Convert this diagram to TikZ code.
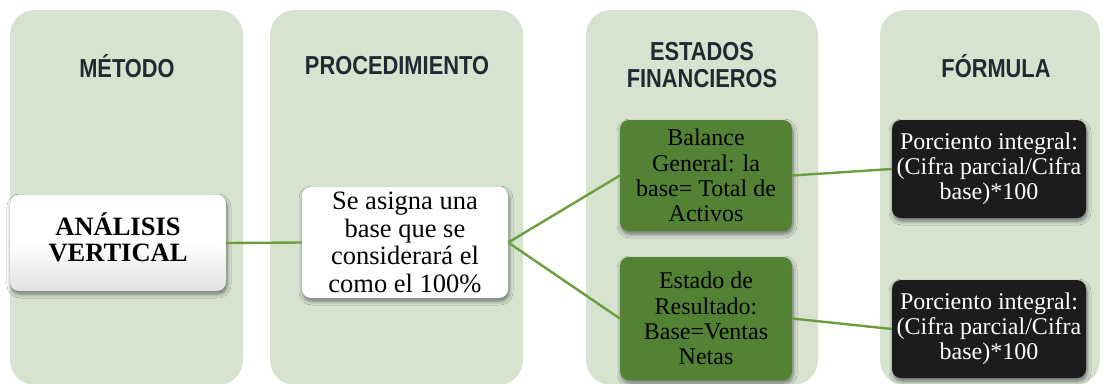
\documentclass[tikz,border=0pt]{standalone}
\usepackage{fontspec}
\setmainfont{Liberation Serif}
\newfontfamily\hdrfont[FakeStretch=0.84]{Liberation Sans}
\usetikzlibrary{shadows.blur}
\definecolor{colbg}{HTML}{D6E3CF}
\definecolor{hdrcol}{HTML}{232933}
\definecolor{boxgreen}{HTML}{548235}
\definecolor{linkgreen}{HTML}{6B9E3F}
\definecolor{boxblack}{HTML}{1C1C1C}
\tikzset{
  column/.style={fill=colbg, draw=none, rounded corners=25pt},
  header/.style={text=hdrcol, font=\hdrfont\bfseries\fontsize{26}{27}\selectfont, align=center},
  boxshadow/.style={blur shadow={shadow xshift=1pt, shadow yshift=-3pt, shadow blur radius=4pt, shadow blur steps=6, shadow opacity=50}},
  whitebox/.style={boxshadow, rounded corners=9pt, draw=none, align=center, inner sep=2pt,
    font=\fontsize{26.5}{27.5}\selectfont, text=black},
  greenbox/.style={boxshadow, fill=boxgreen, rounded corners=9pt, draw=none, align=center, inner sep=2pt,
    font=\fontsize{24}{25.3}\selectfont, text=black, minimum width=172pt},
  blackbox/.style={boxshadow, fill=boxblack, rounded corners=9pt, draw=none, align=center, inner sep=2pt,
    font=\fontsize{24}{25}\selectfont, text=white, minimum width=194pt, minimum height=98pt},
  link/.style={draw=linkgreen, line width=2.4pt}
}
\begin{document}
\begin{tikzpicture}[x=1pt, y=-1pt]
\useasboundingbox (0,0) rectangle (1107,383);
\fill[white] (0,0) rectangle (1107,383);
% columns
\path[column] (10,10) rectangle (243,385);
\path[column] (270,10) rectangle (523,385);
\path[column] (586,10) rectangle (818,385);
\path[column] (880,10) rectangle (1100,385);
% headers
\node[header] (h1) at (127,66) {MÉTODO};
\node[header] (h2) at (397,66) {PROCEDIMIENTO};
\node[header] (h3) at (702,65) {ESTADOS\\FINANCIEROS};
\node[header] (h4) at (996,66) {FÓRMULA};
% boxes
\node[whitebox, top color=white, bottom color=black!12, middle color=white,
  minimum width=216pt, minimum height=96pt, font=\bfseries\fontsize{26.5}{26.5}\selectfont]
  (av) at (118,243) {ANÁLISIS\\VERTICAL\rule[-12pt]{0pt}{12pt}};
\node[whitebox, fill=white, minimum width=206pt, minimum height=111pt]
  (sa) at (405,242.5) {Se asigna una\\base que se\\considerará el\\como el 100\%};
\node[greenbox, minimum height=111pt] (bg) at (706,175.5) {Balance\\General: la\\base= Total de\\Activos};
\node[greenbox, minimum height=123pt] (er) at (706,318.5) {Estado de\\Resultado:\\Base=Ventas\\Netas};
\node[blackbox] (f1) at (989,169) {Porciento integral:\\(Cifra parcial/Cifra\\base)*100};
\node[blackbox] (f2) at (989,329) {Porciento integral:\\(Cifra parcial/Cifra\\base)*100};
% connectors
\draw[link] (av.east) -- (sa.west);
\draw[link] (sa.east) -- (bg.west);
\draw[link] (sa.east) -- (er.west);
\draw[link] (bg.east) -- (f1.west);
\draw[link] (er.east) -- (f2.west);
\end{tikzpicture}
\end{document}
